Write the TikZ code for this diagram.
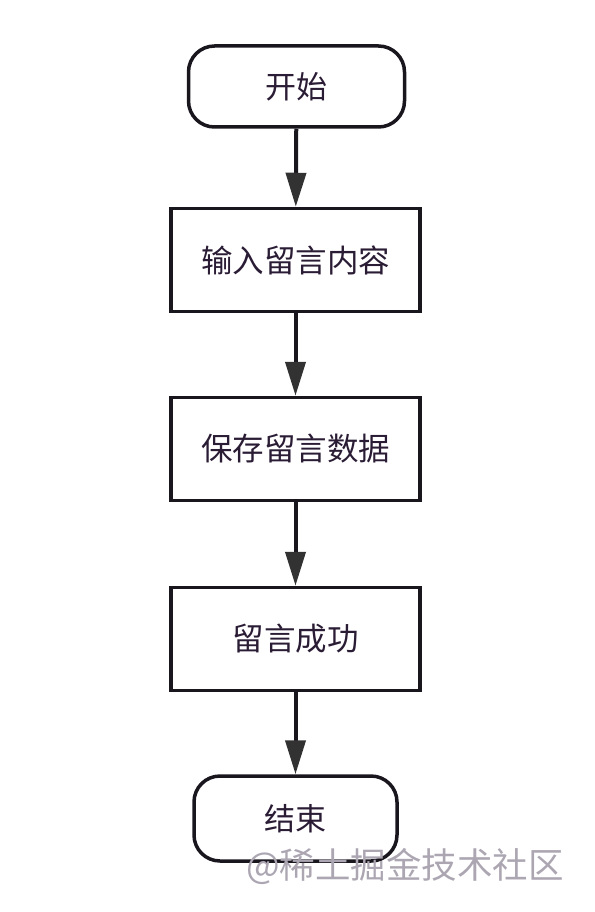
\documentclass[tikz,border=0pt]{standalone}
\usepackage{fontspec}
\usepackage{tikz}
\usetikzlibrary{arrows.meta}
\newfontfamily\cjk{Noto Sans CJK SC}
\definecolor{inkcol}{RGB}{26,22,30}
\definecolor{txtcol}{RGB}{42,28,52}
\definecolor{tipcol}{RGB}{50,50,50}
\definecolor{markcol}{RGB}{172,166,178}

\begin{document}
\begin{tikzpicture}[x=1pt,y=1pt,yscale=-1,xscale=1,
  terminal/.style={draw=inkcol,line width=3.5pt,rounded corners=26pt,minimum width=216pt,minimum height=81pt,inner sep=0pt,text=txtcol,font=\cjk\fontsize{31}{31}\selectfont},
  process/.style={draw=inkcol,line width=3.5pt,minimum width=249pt,minimum height=103pt,inner sep=0pt,text=txtcol,font=\cjk\fontsize{31.5}{31.5}\selectfont},
  flow/.style={draw=inkcol,line width=4pt,-{Triangle[width=20pt,length=34pt,color=tipcol]}}]
%set diagram size to the reference
\useasboundingbox (0,0) rectangle (594,912);

% Terminal Nodes
\node [terminal] (start) at (296.5,86.5) {开始};
\node [terminal,minimum width=203pt,minimum height=85pt] (stop) at (295.5,818.5) {结束};
% Process Nodes
\node [process] (input) at (295.5,260) {输入留言内容};
\node [process] (save) at (295.5,449) {保存留言数据};
\node [process] (done) at (295.5,639) {留言成功};

% Connectors
\draw [flow] (start) -- (input);
\draw [flow] (input) -- (save);
\draw [flow] (save) -- (done);
\draw [flow] (done) -- (stop);

% Text Node
\node [text=markcol,font=\cjk\fontsize{35.5}{35.5}\selectfont,inner sep=0pt] (mark) at (405,866) {@稀土掘金技术社区};

\end{tikzpicture}
\end{document}
